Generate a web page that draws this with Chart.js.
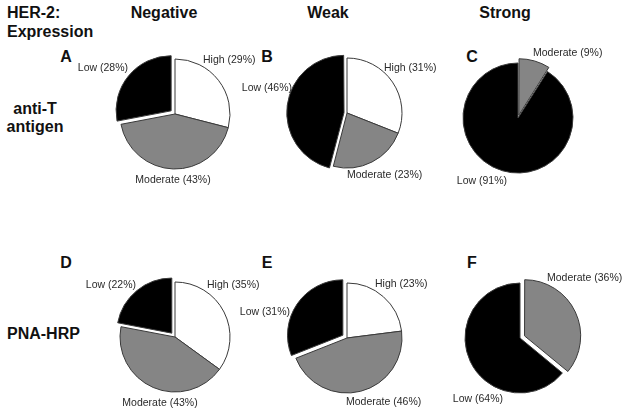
<!DOCTYPE html>
<html lang="en">
<head>
    <meta charset="UTF-8">
    <title>HER-2 Expression Pie Charts</title>
    <script src="https://cdn.jsdelivr.net/npm/chart.js"></script>
    <style>
        body {
            margin: 0;
            width: 629px;
            height: 415px;
            background: #fff;
            overflow: hidden;
            position: relative;
            font-family: "Liberation Sans", Arial, sans-serif;
        }

        .txt {
            position: absolute;
            font-weight: bold;
            font-size: 16px;
            line-height: 18px;
            color: #111;
            white-space: nowrap;
        }

        .mid { transform: translate(-50%, -50%); text-align: center; }
        .lft { transform: translateY(-50%); }

        canvas { position: absolute; }
    </style>
</head>
<body>

<script>
// --- data ---
const panels = ['A', 'B', 'C', 'D', 'E', 'F'];
const columnTitles = ['Negative', 'Weak', 'Strong'];
const rowTitles = ['anti-T antigen', 'PNA-HRP'];

const antiTCategories = [['High', 'Moderate', 'Low'], ['High', 'Moderate', 'Low'], ['Moderate', 'Low']];
const antiTValues     = [[29, 43, 28], [31, 23, 46], [9, 91]];
const pnaCategories   = [['High', 'Moderate', 'Low'], ['High', 'Moderate', 'Low'], ['Moderate', 'Low']];
const pnaValues       = [[35, 43, 22], [23, 46, 31], [36, 64]];

// --- styles / layout ---
const sliceColors = { High: '#ffffff', Moderate: '#858585', Low: '#000000' };
const exploded = ['Low', 'Low', 'Moderate', 'Low', 'Low', 'Moderate'];
const explodeBy = [20, 12, 12, 20, 20, 20];   // chart.js offset (px * 4)
const pieCenters = [[175, 114], [347, 113], [518, 118], [175, 337], [347, 338], [520, 338]];
const pieRadius = 55;
const canvasW = 220, canvasH = 170;

// label placement relative to pie centre (text only)
const labelSpots = {
  A: { High: [28, -54, 'left'], Moderate: [-2, 66, 'center'], Low: [-47, -46, 'right'] },
  B: { High: [37, -45, 'left'], Moderate: [0, 62, 'left'], Low: [-55, -25, 'right'] },
  C: { Moderate: [15, -65, 'left'], Low: [-11, 63, 'right'] },
  D: { High: [32, -52, 'left'], Moderate: [-15, 66, 'center'], Low: [-39, -52, 'right'] },
  E: { High: [28, -54, 'left'], Moderate: [-1, 64, 'left'], Low: [-57, -26, 'right'] },
  F: { Moderate: [27, -60, 'left'], Low: [-17, 61, 'right'] }
};

function addText(text, x, y, cls) {
  const d = document.createElement('div');
  d.className = 'txt ' + cls;
  d.style.left = x + 'px';
  d.style.top = y + 'px';
  d.innerHTML = text;
  document.body.appendChild(d);
}

// headers
addText('HER-2:', 7, 13, 'lft');
addText('Expression', 7, 32, 'lft');
const colX = [164, 328, 505];
columnTitles.forEach((t, i) => addText(t, colX[i], 13, 'mid'));
addText('anti-T<br>antigen', 35, 118, 'mid');
addText(rowTitles[1], 7, 334, 'lft');

const letterX = [66, 267, 472];
panels.forEach((p, i) => addText(p, letterX[i % 3], i < 3 ? 57 : 263, 'mid'));

// pie labels drawn from each arc's centre
const sliceLabels = {
  id: 'sliceLabels',
  afterDraw(chart) {
    const ctx = chart.ctx;
    const meta = chart.getDatasetMeta(0);
    const spots = labelSpots[chart.options.plugins.sliceLabels.panel];
    const cats = chart.data.labels;
    const vals = chart.data.datasets[0].data;
    ctx.save();
    ctx.font = '10.5px "Liberation Sans", Arial, sans-serif';
    ctx.fillStyle = '#2a2a2a';
    ctx.textBaseline = 'middle';
    meta.data.forEach((arc, i) => {
      const s = spots[cats[i]];
      ctx.textAlign = s[2];
      ctx.fillText(`${cats[i]} (${vals[i]}%)`, arc.x + s[0], arc.y + s[1]);
    });
    ctx.restore();
  }
};

function makePie(idx, cats, vals) {
  const c = document.createElement('canvas');
  c.width = canvasW;
  c.height = canvasH;
  c.style.left = (pieCenters[idx][0] - canvasW / 2) + 'px';
  c.style.top = (pieCenters[idx][1] - canvasH / 2) + 'px';
  document.body.appendChild(c);

  new Chart(c.getContext('2d'), {
    type: 'pie',
    data: {
      labels: cats,
      datasets: [{
        data: vals,
        backgroundColor: cats.map(k => sliceColors[k]),
        borderColor: '#3a3a3a',
        borderWidth: 1,
        offset: cats.map(k => k === exploded[idx] ? explodeBy[idx] : 0)
      }]
    },
    options: {
      responsive: false,
      animation: false,
      radius: pieRadius,
      layout: { padding: 0 },
      plugins: {
        legend: { display: false },
        tooltip: { enabled: false },
        sliceLabels: { panel: panels[idx] }
      }
    },
    plugins: [sliceLabels]
  });
}

antiTValues.forEach((v, i) => makePie(i, antiTCategories[i], v));
pnaValues.forEach((v, i) => makePie(i + 3, pnaCategories[i], v));
</script>

</body>
</html>
